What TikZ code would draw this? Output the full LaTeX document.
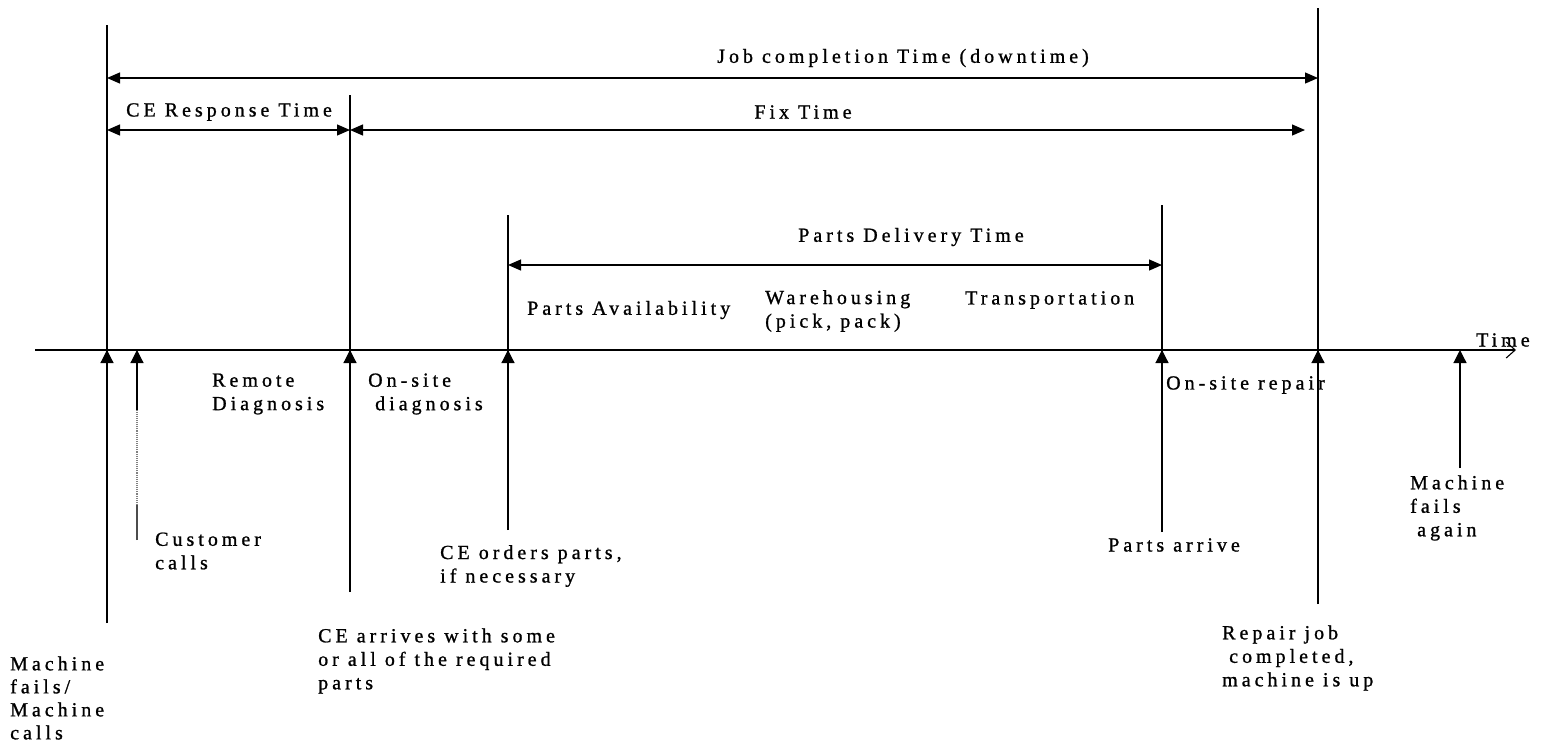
\documentclass[tikz,border=0pt]{standalone}
\usepackage{fontspec}
\setmainfont{Liberation Serif}[LetterSpace=20,FakeBold=1]
\usetikzlibrary{arrows.meta}

\begin{document}
\begin{tikzpicture}[x=1pt,y=-1pt,
  lbl/.style={inner sep=0pt, align=left, font=\fontsize{20}{23.5}\selectfont},
  event/.style={line width=1.2pt},
  tick/.style={line width=1.2pt, -{Triangle[length=13pt,width=13pt]}},
  span/.style={line width=1.2pt, {Triangle[length=13pt,width=11pt]}-{Triangle[length=13pt,width=11pt]}},
  axis/.style={line width=1.2pt, -{Straight Barb[length=9pt,width=16pt,line width=1.1pt]}}]
\useasboundingbox (0,0) rectangle (1548,742);

% time axis
\coordinate (axL) at (35,350);
\coordinate (axR) at (1516,350);
\draw[axis] (axL) -- (axR);
\node[lbl, anchor=west] (tlbl) at (1476,340) {Time};

% event lines and their marks on the axis
\coordinate (fTop) at (107,25);   \coordinate (fBot) at (107,623);  \coordinate (fAx) at (107,350);
\coordinate (cBot) at (137,540);  \coordinate (cMid) at (137,505); \coordinate (cUp) at (137,410); \coordinate (cAx) at (137,350);
\coordinate (aTop) at (350,95);   \coordinate (aBot) at (350,592);  \coordinate (aAx) at (350,350);
\coordinate (oTop) at (508,215);  \coordinate (oBot) at (508,530);  \coordinate (oAx) at (508,350);
\coordinate (pTop) at (1162,205); \coordinate (pBot) at (1162,532); \coordinate (pAx) at (1162,350);
\coordinate (rTop) at (1318,8);   \coordinate (rBot) at (1318,604); \coordinate (rAx) at (1318,350);
\coordinate (gBot) at (1460,468); \coordinate (gAx) at (1460,350);

\draw[event] (fTop) -- (fBot);
\draw[tick] (fBot) -- (fAx);
% customer call: faint line below a short solid stem
\draw[line width=1.1pt, black!70] (cBot) -- (cMid);
\draw[line width=1.1pt, gray, densely dotted] (cMid) -- (cUp);
\draw[tick] (cUp) -- (cAx);
\draw[event] (aTop) -- (aBot);
\draw[tick] (aBot) -- (aAx);
\draw[event] (oTop) -- (oBot);
\draw[tick] (oBot) -- (oAx);
\draw[event] (pTop) -- (pBot);
\draw[tick] (pBot) -- (pAx);
\draw[event] (rTop) -- (rBot);
\draw[tick] (rBot) -- (rAx);
\draw[tick] (gBot) -- (gAx);

% durations
\coordinate (jL) at (107,78);  \coordinate (jR) at (1318,78);
\coordinate (eL) at (107,130); \coordinate (eR) at (350,130);
\coordinate (xL) at (350,130); \coordinate (xR) at (1305,130);
\coordinate (dL) at (508,265); \coordinate (dR) at (1162,265);
\draw[span] (jL) -- (jR);
\draw[span] (eL) -- (eR);
\draw[span] (xL) -- (xR);
\draw[span] (dL) -- (dR);

\node[lbl] (job) at (903,58) {Job completion Time (downtime)};
\node[lbl, anchor=west] (resp) at (126,112) {CE Response Time};
\node[lbl] (fix) at (803,112) {Fix Time};
\node[lbl] (del) at (911,237) {Parts Delivery Time};

% phases above the axis
\node[lbl, anchor=west] (avail) at (527,310) {Parts Availability};
\node[lbl, anchor=west] (wh) at (765,311) {Warehousing\\(pick, pack)};
\node[lbl, anchor=west] (trans) at (965,300) {Transportation};

% phases below the axis
\node[lbl, anchor=west] (remote) at (212,394) {Remote\\Diagnosis};
\node[lbl, anchor=west] (onsite) at (368,394) {On-site\\\hspace*{7pt}diagnosis};
\node[lbl, anchor=west] (repair) at (1166,385) {On-site repair};

% event descriptions
\node[lbl, anchor=west] (cust) at (155,551) {Customer\\calls};
\node[lbl, anchor=west] (order) at (440,566) {CE orders parts,\\if necessary};
\node[lbl, anchor=west] (arrive) at (1108,545) {Parts arrive};
\node[lbl, anchor=west] (again) at (1410,508) {Machine\\fails\\\hspace*{7pt}again};
\node[lbl, anchor=west, font=\fontsize{20}{23}\selectfont] (fails) at (10,698) {Machine\\fails/\\Machine\\calls};
\node[lbl, anchor=west] (ce) at (318,661) {CE arrives with some\\or all of the required\\parts};
\node[lbl, anchor=west] (done) at (1222,658) {Repair job\\\hspace*{7pt}completed,\\machine is up};
\end{tikzpicture}
\end{document}
